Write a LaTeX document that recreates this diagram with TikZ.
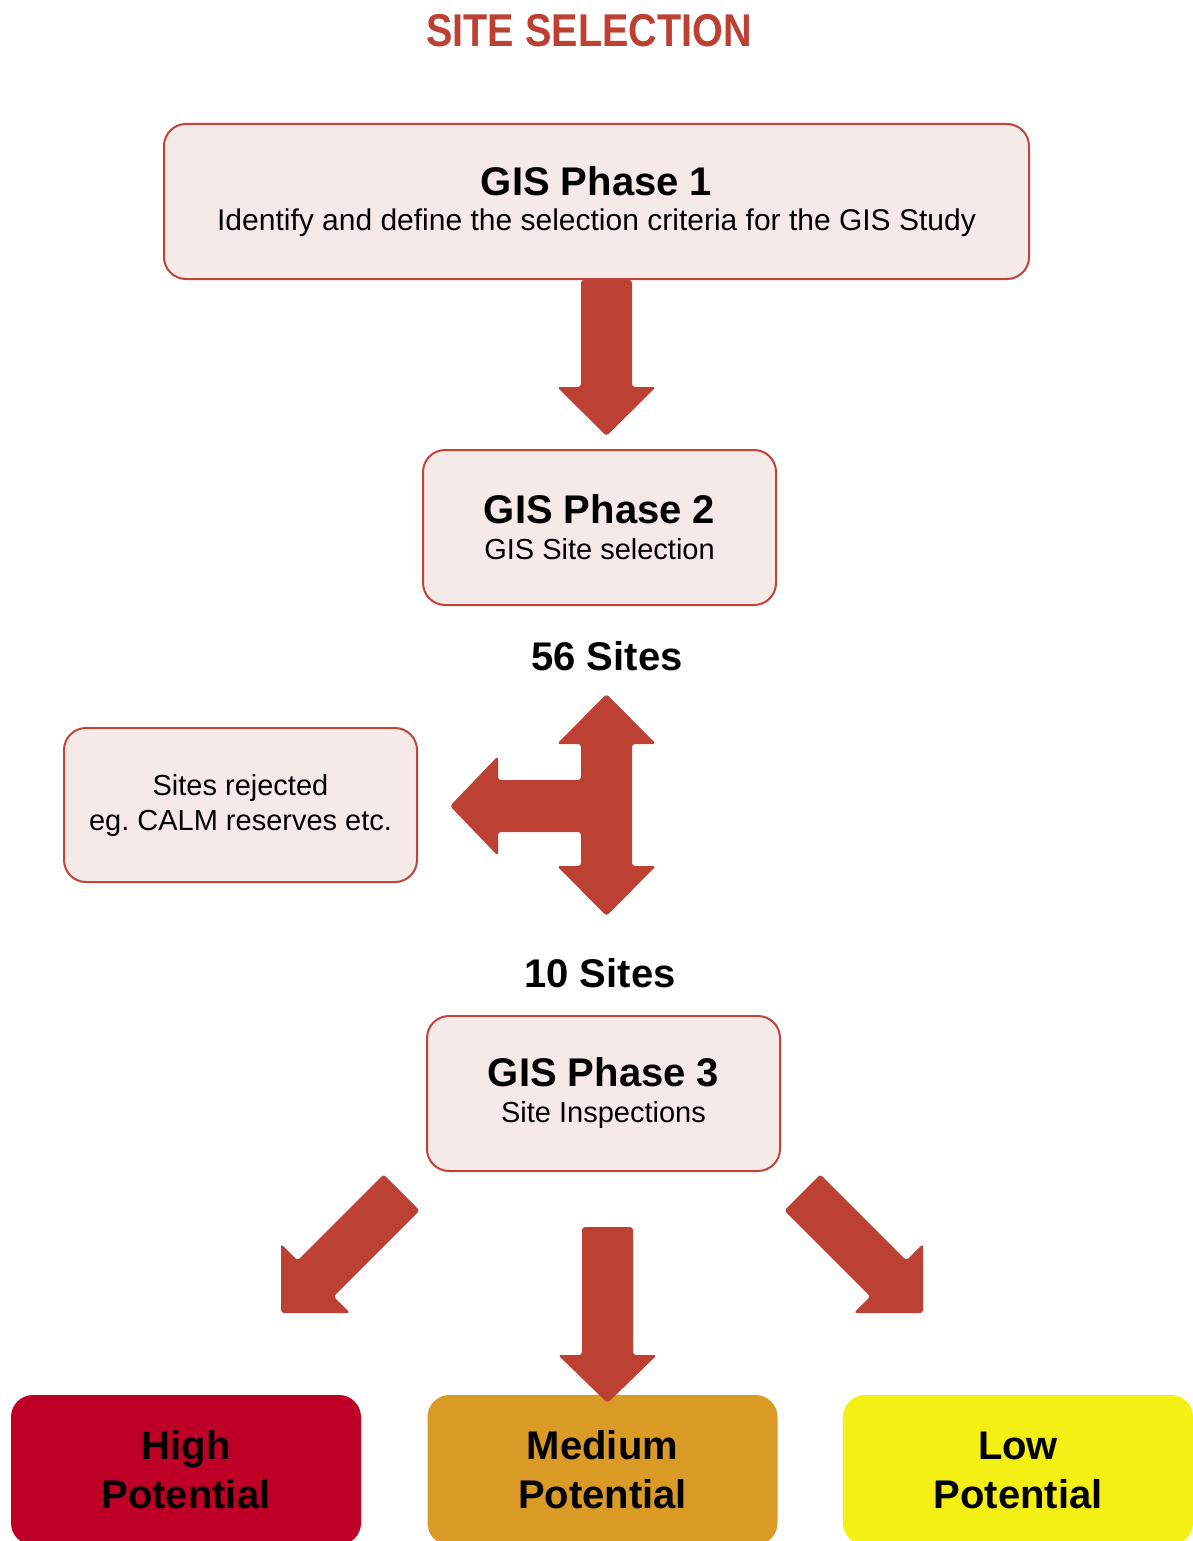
\documentclass[tikz,border=0pt]{standalone}
\usepackage{fontspec}
\setmainfont{Liberation Sans}
\newfontfamily\condfont[FakeStretch=0.86]{Liberation Sans}
\usetikzlibrary{calc}
\definecolor{boxred}{HTML}{C0443A}
\definecolor{boxfill}{HTML}{F6EAE9}
\definecolor{arrowred}{HTML}{BC4133}
\definecolor{highred}{HTML}{BE0026}
\definecolor{mediumorange}{HTML}{DA9A26}
\definecolor{lowyellow}{HTML}{F5F014}
\tikzstyle{phase} = [rectangle, draw=boxred, fill=boxfill, line width=1pt, rounded corners=11pt, align=center, minimum width=176.5pt, minimum height=77.5pt, inner sep=0pt, font=\fontsize{14.5}{18}\selectfont]
\tikzstyle{potential} = [rectangle, rounded corners=11pt, align=center, minimum width=175pt, minimum height=75pt, inner sep=0pt, font=\bfseries\fontsize{20}{24.5}\selectfont]
\tikzstyle{blockarrow} = [fill=arrowred, rounded corners=1.5pt]
\tikzstyle{count} = [anchor=base, font=\bfseries\fontsize{20}{24}\selectfont]
\newcommand{\phasetitle}[1]{{\bfseries\fontsize{20}{18}\selectfont #1}}
\frenchspacing

\begin{document}
\begin{tikzpicture}[x=0.5pt, y=-0.5pt]
        \useasboundingbox (0, 0) rectangle (1193, 1541);
        \node[anchor=base, text=arrowred, font=\condfont\bfseries\fontsize{23}{28}\selectfont] at (589, 47) (title) {SITE SELECTION};

        \node[phase, minimum width=432.5pt, font=\fontsize{15}{17.5}\selectfont] at (596.5, 201.5) (PhaseOne) {\phasetitle{GIS Phase 1}\\Identify and define the selection criteria for the GIS Study};
        \node[phase] at (599.5, 527.5) (PhaseTwo) {\phasetitle{GIS Phase 2}\\GIS Site selection};
        \node[count] at (607, 670) (FiftySix) {56 Sites};
        \node[phase, minimum height=77pt, font=\fontsize{14.5}{17.5}\selectfont] at (240.5, 805) (Rejected) {Sites rejected\\eg. CALM reserves etc.};
        \node[count] at (600, 987) (Ten) {10 Sites};
        \node[phase] at (603.5, 1093.5) (PhaseThree) {\phasetitle{GIS Phase 3}\\Site Inspections};

        \node[potential, fill=highred] at (186, 1470) (High) {High\\Potential};
        \node[potential, fill=mediumorange] at (602.5, 1470) (Medium) {Medium\\Potential};
        \node[potential, fill=lowyellow] at (1018, 1470) (Low) {Low\\Potential};

        \fill[blockarrow] (581, 280) -- (581, 387) -- (557, 387) -- (606.5, 436) -- (656, 387) -- (632, 387) -- (632, 280) -- cycle;
        \fill[blockarrow] (606.5, 694) -- (656, 744) -- (632, 744) -- (632, 866) -- (656, 866) -- (606.5, 916) -- (557, 866) -- (581, 866) -- (581, 832) -- (498, 832) -- (498, 856) -- (450, 806) -- (498, 756) -- (498, 780) -- (581, 780) -- (581, 744) -- (557, 744) -- cycle;
        \fill[blockarrow] (582, 1227) -- (582, 1355) -- (558, 1355) -- (607.5, 1403) -- (657, 1355) -- (633, 1355) -- (633, 1227) -- cycle;
        \fill[blockarrow] (383.6, 1174.4) -- (419.6, 1210.4) -- (333.6, 1296.4) -- (350.2, 1313) -- (281, 1313) -- (281, 1243.8) -- (297.6, 1260.4) -- cycle;
        \fill[blockarrow] (820.4, 1174.4) -- (784.4, 1210.4) -- (870.4, 1296.4) -- (853.8, 1313) -- (923, 1313) -- (923, 1243.8) -- (906.4, 1260.4) -- cycle;
\end{tikzpicture}
\end{document}
